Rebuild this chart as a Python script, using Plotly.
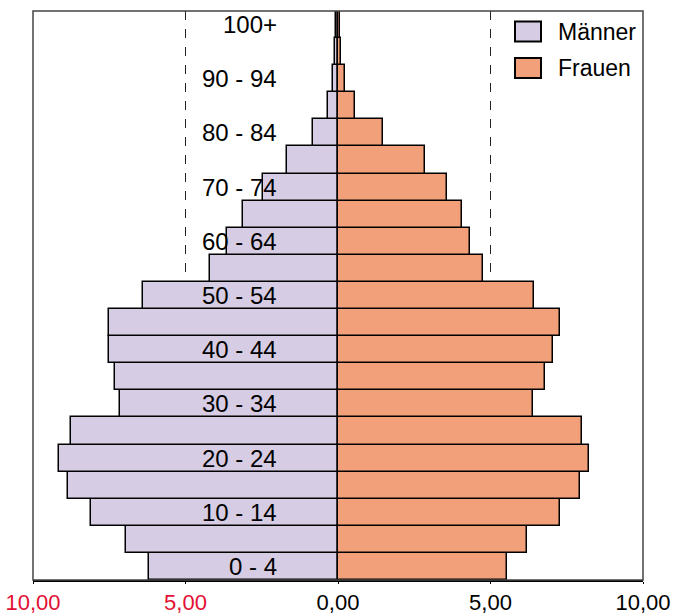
import plotly.graph_objects as go

age_groups = ["0 - 4", "5 - 9", "10 - 14", "15 - 19", "20 - 24", "25 - 29", "30 - 34",
              "35 - 39", "40 - 44", "45 - 49", "50 - 54", "55 - 59", "60 - 64", "65 - 69",
              "70 - 74", "75 - 79", "80 - 84", "85 - 89", "90 - 94", "95 - 99", "100+"]
maenner = [6.21, 6.94, 8.09, 8.85, 9.15, 8.74, 7.15, 7.30, 7.52, 7.50, 6.40,
           4.19, 3.65, 3.11, 2.47, 1.67, 0.83, 0.34, 0.17, 0.09, 0.08]
frauen = [5.55, 6.20, 7.28, 7.92, 8.24, 8.01, 6.40, 6.78, 7.04, 7.29, 6.42,
          4.76, 4.33, 4.06, 3.56, 2.84, 1.46, 0.55, 0.23, 0.09, 0.08]
shown_labels = age_groups[::2]
x_tickvals = [-10, -5, 0, 5, 10]
x_ticktext = ["10,00", "5,00", "0,00", "5,00", "10,00"]

MEN_COLOR = "rgb(214,204,227)"
WOMEN_COLOR = "rgb(242,160,121)"
RED = "rgb(226,16,52)"
FONT = "Liberation Sans, Arial, sans-serif"

fig = go.Figure()
fig.add_trace(go.Bar(y=age_groups, x=[-v for v in maenner], orientation="h", name="Männer",
                     marker=dict(color=MEN_COLOR, line=dict(color="black", width=1.5)),
                     showlegend=False))
fig.add_trace(go.Bar(y=age_groups, x=frauen, orientation="h", name="Frauen",
                     marker=dict(color=WOMEN_COLOR, line=dict(color="black", width=1.5)),
                     showlegend=False))

ticktext = []
for v, t in zip(x_tickvals, x_ticktext):
    if v < 0:
        ticktext.append(f'<span style="color:{RED}">{t}</span>')
    else:
        ticktext.append(t)

for lab in shown_labels:
    fig.add_annotation(x=-1.95, y=lab, xref="x", yref="y", text=lab, showarrow=False,
                       xanchor="right", yanchor="middle",
                       font=dict(family=FONT, size=24, color="black"))

# Legend drawn manually (large boxes as in the reference)
W, H, L, B = 610.0, 569.0, 33.0, 580.0
def px(x):
    return (x - L) / W
def py(y):
    return (B - y) / H
legend_items = [("Männer", MEN_COLOR, 21.5, 41.5), ("Frauen", WOMEN_COLOR, 58, 78)]
for name, col, y0, y1 in legend_items:
    fig.add_shape(type="rect", xref="paper", yref="paper", x0=px(515), x1=px(541),
                  y0=py(y1), y1=py(y0), fillcolor=col, line=dict(color="black", width=2))
    fig.add_annotation(xref="paper", yref="paper", x=px(556), y=py((y0 + y1) / 2),
                       text=name, showarrow=False, xanchor="left", yanchor="middle",
                       font=dict(family=FONT, size=23, color="black"))

# plot area frame
fig.add_shape(type="rect", xref="paper", yref="paper", x0=0, x1=1, y0=0, y1=1,
              line=dict(color="#444444", width=1.5), layer="above")

fig.update_layout(
    width=680, height=616,
    margin=dict(l=33, r=37, t=11, b=36),
    barmode="relative", bargap=0,
    plot_bgcolor="white", paper_bgcolor="white",
    font=dict(family=FONT, size=24, color="black"),
    xaxis=dict(range=[-10, 10], tickvals=x_tickvals, ticktext=ticktext, automargin=False,
               showgrid=True, gridcolor="#222222", griddash="dash", gridwidth=1,
               zeroline=False, showline=True, linecolor="black", linewidth=1.5,
               ticks="outside", ticklen=2, tickcolor="black",
               tickfont=dict(family=FONT, size=22, color="black")),
    yaxis=dict(range=[-0.5, 20.5], showticklabels=False, showgrid=False, zeroline=False,
               automargin=False, categoryorder="array", categoryarray=age_groups),
)

fig.write_html("out.html")
